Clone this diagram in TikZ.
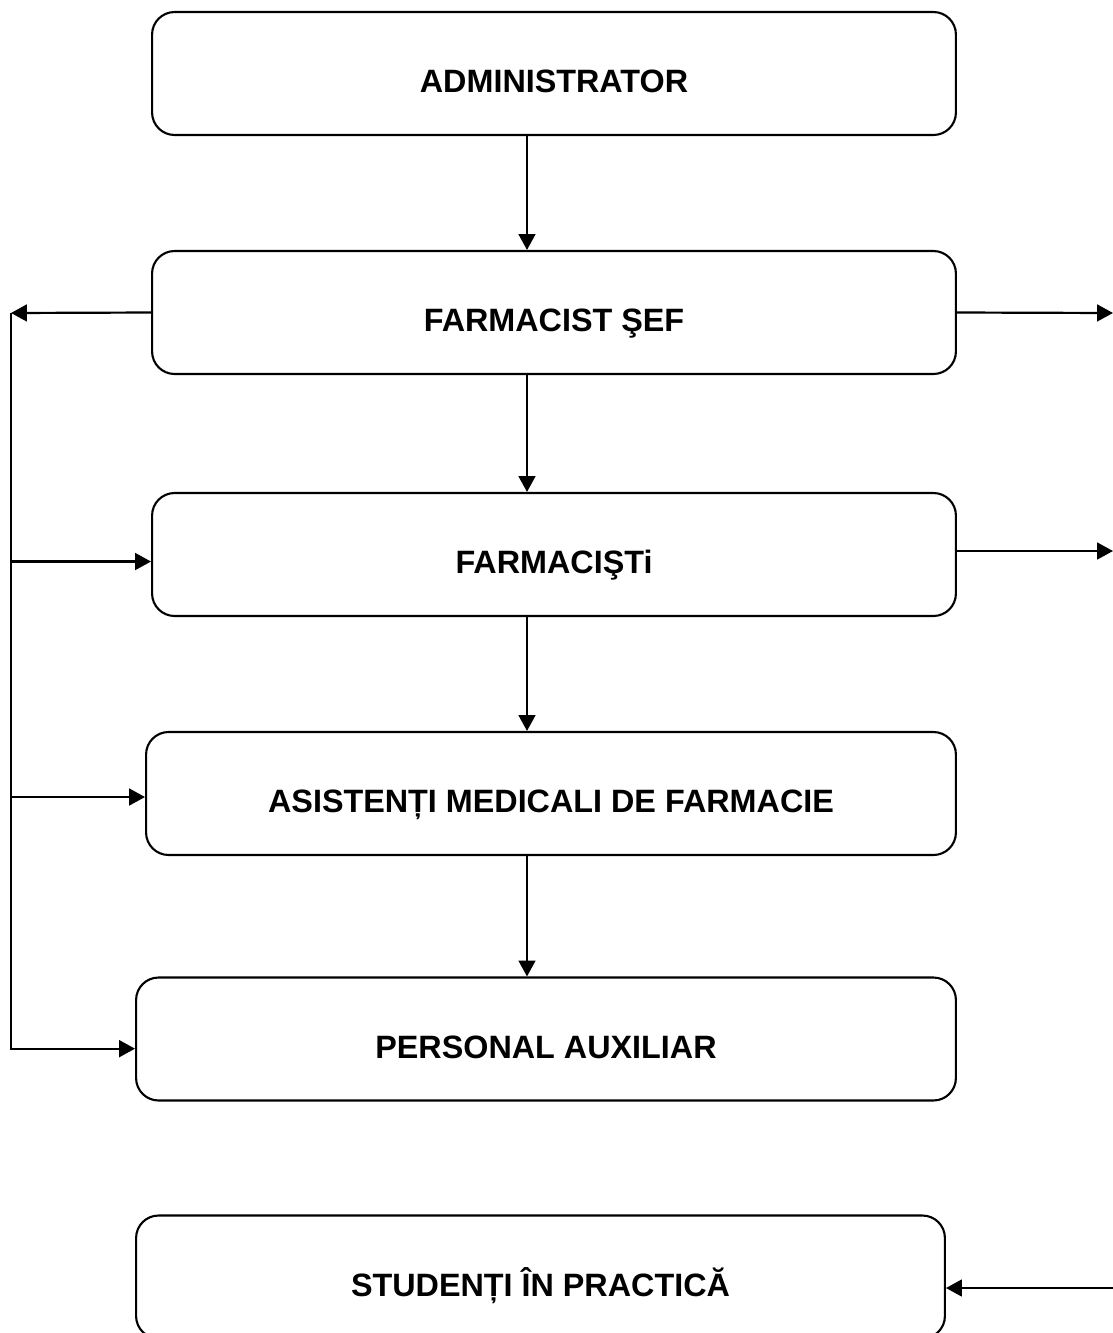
\documentclass[tikz,border=0pt]{standalone}
\usepackage{fontspec}
\setmainfont{Liberation Sans}
\usetikzlibrary{arrows.meta}

\begin{document}
\begin{tikzpicture}[x=0.02cm,y=-0.02cm,
	box/.style={draw,line width=1.2pt,rounded corners=0.45cm,minimum height=2.46cm,
		text height=22pt,text depth=0pt,font=\fontsize{18.4}{22}\selectfont\bfseries},
	conn/.style={line width=1.25pt,-{Triangle[length=9pt,width=9.5pt]}}]

	\useasboundingbox (0,0) rectangle (1113,1333);
	\clip (0,0) rectangle (1113,1333);

	\node (adm) at (554,73.5) [box,minimum width=16.08cm] {ADMINISTRATOR};
	\node (sef) at (554,312.5) [box,minimum width=16.08cm] {FARMACIST ŞEF};
	\node (far) at (554,554.5) [box,minimum width=16.08cm] {FARMACIŞTi};
	\node (asi) at (551,793.5) [box,minimum width=16.2cm] {ASISTENȚI MEDICALI DE FARMACIE};
	\node (aux) at (546,1039) [box,minimum width=16.4cm] {PERSONAL AUXILIAR};
	\node (stu) at (540.5,1277) [box,minimum width=16.18cm] {STUDENȚI ÎN PRACTICĂ};

	% vertical chain
	\coordinate (vx) at (527,0);
	\draw[conn] (adm.south -| vx) -- (sef.north -| vx);
	\draw[conn] (sef.south -| vx) -- (far.north -| vx);
	\draw[conn] (far.south -| vx) -- (asi.north -| vx);
	\draw[conn] (asi.south -| vx) -- (aux.north -| vx);

	% left side
	\coordinate (lft) at (11,313);
	\coordinate (farin) at ([yshift=-4pt]far.west);
	\coordinate (asiin) at ([yshift=-2pt]asi.west);
	\coordinate (auxin) at ([yshift=-5.5pt]aux.west);
	\draw[conn] (sef.west) -- (lft);
	\draw[conn] (lft) |- (auxin);
	\draw[conn] (lft |- farin) -- (farin);
	\draw[conn] (lft |- asiin) -- (asiin);

	% right side
	\coordinate (r1) at (1113,313);
	\coordinate (r2) at (1113,551);
	\coordinate (r3) at (1113,1288);
	\draw[conn] (sef.east) -- (r1);
	\draw[conn] (far.east |- r2) -- (r2);
	\draw[conn] (r3) -- (stu.east |- r3);

\end{tikzpicture}
\end{document}
